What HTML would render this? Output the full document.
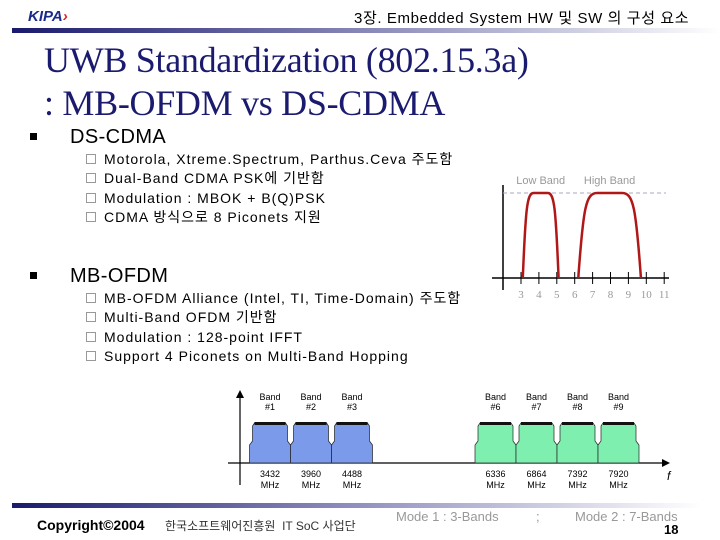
<!DOCTYPE html>
<html><head><meta charset="utf-8">
<style>
body{margin:0;width:720px;height:540px;background:#fff;overflow:hidden;position:relative;font-family:"Liberation Sans","Noto Sans CJK KR",sans-serif}
.abs{position:absolute}
.t1{font-family:"Liberation Serif","Noto Serif CJK SC",serif;color:#1a1a6e;font-size:36px;line-height:43px;left:44px;top:39px;letter-spacing:-0.3px}
.sq{width:7px;height:7px;background:#000;display:inline-block;vertical-align:3px}
.l1{font-size:20px;color:#000;letter-spacing:0.4px}
.l2{font-size:14px;color:#000;line-height:19.3px;letter-spacing:1px}
.cb{display:inline-block;width:8px;height:8px;border:1px solid #999;margin-right:8px;vertical-align:0px}
</style></head><body>
<div class="abs" style="left:12px;top:28px;width:708px;height:5px;background:linear-gradient(90deg,#1a1a6e,#8888b8 50%,#fff)"></div>
<div class="abs" style="left:28px;top:8px;font:italic bold 15px 'Liberation Sans';color:#1a2a8a">KIPA<span style="color:#d22">›</span></div>
<div class="abs" style="left:354px;top:7px;font-size:15px;letter-spacing:0.6px">3장. Embedded System HW 및 SW 의 구성 요소</div>
<div class="abs t1">UWB Standardization (802.15.3a)<br>: MB-OFDM vs DS-CDMA</div>
<div class="abs" style="left:30px;top:126px">
<div class="l1"><span class="sq" style="margin-right:33px"></span>DS-CDMA</div>
<div class="l2" style="margin:1px 0 0 56px">
<div><span class="cb"></span>Motorola, Xtreme.Spectrum, Parthus.Ceva 주도함</div>
<div><span class="cb"></span>Dual-Band CDMA PSK에 기반함</div>
<div><span class="cb"></span>Modulation : MBOK + B(Q)PSK</div>
<div><span class="cb"></span>CDMA 방식으로 8 Piconets 지원</div></div></div>
<div class="abs" style="left:30px;top:265px">
<div class="l1"><span class="sq" style="margin-right:33px"></span>MB-OFDM</div>
<div class="l2" style="margin:1px 0 0 56px">
<div><span class="cb"></span>MB-OFDM Alliance (Intel, TI, Time-Domain) 주도함</div>
<div><span class="cb"></span>Multi-Band OFDM 기반함</div>
<div><span class="cb"></span>Modulation : 128-point IFFT</div>
<div><span class="cb"></span>Support 4 Piconets on Multi-Band Hopping</div></div></div>

<svg id="c1" class="abs" style="left:0;top:0" width="720" height="540"></svg>

<div class="abs" style="left:12px;top:503px;width:690px;height:5px;background:linear-gradient(90deg,#1a1a6e,#9090c0 50%,#fff)"></div>
<div class="abs" style="left:37px;top:517px;font:bold 14px 'Liberation Sans'">Copyright©2004</div>
<div class="abs" style="left:165px;top:517px;font-size:12px;color:#333">한국소프트웨어진흥원 &nbsp;IT SoC 사업단</div>
<div class="abs" style="left:396px;top:509px;font-size:13px;color:#999">Mode 1 : 3-Bands</div>
<div class="abs" style="left:536px;top:509px;font-size:13px;color:#999">;</div>
<div class="abs" style="left:575px;top:509px;font-size:13px;color:#999">Mode 2 : 7-Bands</div>
<div class="abs" style="left:664px;top:522px;font:bold 13px 'Liberation Sans'">18</div>
<script>
const tickVals=[3,4,5,6,7,8,9,10,11];
const bandNames=["Low Band","High Band"];
const bandStart=[3.1,6.2];
const bandEnd=[5.1,9.7];
const ofdmBands=["#1","#2","#3","#6","#7","#8","#9"];
const ofdmFreqs=[3432,3960,4488,6336,6864,7392,7920];
const ofdmColors=["#7b9bea","#7b9bea","#7b9bea","#7fefaf","#7fefaf","#7fefaf","#7fefaf"];
const NS="http://www.w3.org/2000/svg";
const svg=document.getElementById('c1');
function mk(t,a,p){const e=document.createElementNS(NS,t);for(const k in a)e.setAttribute(k,a[k]);(p||svg).appendChild(e);return e;}
const x1=v=>521+(v-3)*17.9, base1=278, top1=193;
let e;
e=mk('line',{x1:503,y1:185,x2:503,y2:290,stroke:'#000','stroke-width':1.5});

e=mk('line',{x1:492,y1:base1,x2:669,y2:base1,stroke:'#000','stroke-width':1.5});

e=mk('line',{x1:503,y1:top1,x2:666,y2:top1,stroke:'#aab','stroke-dasharray':'4 3'});

tickVals.forEach(v=>{
 e=mk('line',{x1:x1(v),y1:base1-6,x2:x1(v),y2:base1+6,stroke:'#000'});
 
 e=mk('text',{x:x1(v),y:base1+20,'text-anchor':'middle','font-size':11,fill:'#999','font-family':'Liberation Serif'});e.textContent=v;
 
});
bandNames.forEach((n,i)=>{
 const a=x1(bandStart[i]),b=x1(bandEnd[i]),w=b-a;
 e=mk('path',{d:`M${a},${base1} C${a+w*0.08},${top1+15} ${a+w*0.12},${top1} ${a+w*0.3},${top1} L${b-w*0.3},${top1} C${b-w*0.12},${top1} ${b-w*0.08},${top1+15} ${b},${base1}`,fill:'none',stroke:'#b01818','stroke-width':2.5});
 
 e=mk('text',{x:(a+b)/2,y:184,'text-anchor':'middle','font-size':11,fill:'#999'});e.textContent=n;
 
});
const x2=f=>270+(f-3432)*41/528, base2=463, top2=423, bw=41;
e=mk('line',{x1:240,y1:485,x2:240,y2:396,stroke:'#000','stroke-width':1.2});

mk('path',{d:'M236,398 L240,390 L244,398 Z',fill:'#000'});
e=mk('line',{x1:228,y1:base2,x2:664,y2:base2,stroke:'#000','stroke-width':1.2});

mk('path',{d:'M662,459 L670,463 L662,467 Z',fill:'#000'});
e=mk('text',{x:667,y:480,'font-size':12,'font-style':'italic'});e.textContent='f';

ofdmFreqs.forEach((f,i)=>{
 const c=x2(f),a=c-bw/2,b=c+bw/2;
 e=mk('path',{d:`M${a},${base2} L${a},${top2+22} L${a+3},${top2+18} L${a+3},${top2+3} L${a+5},${top2} L${b-5},${top2} L${b-3},${top2+3} L${b-3},${top2+18} L${b},${top2+22} L${b},${base2} Z`,fill:ofdmColors[i],stroke:'#222','stroke-width':0.7});
 
 mk('rect',{x:a+5,y:top2-1,width:bw-10,height:3,fill:'#111'});
 e=mk('text',{x:c,y:400,'text-anchor':'middle','font-size':9});e.textContent='Band';
 
 e=mk('text',{x:c,y:410,'text-anchor':'middle','font-size':9});e.textContent=ofdmBands[i];
 
 e=mk('text',{x:c,y:477,'text-anchor':'middle','font-size':9});e.textContent=f;
 
 e=mk('text',{x:c,y:488,'text-anchor':'middle','font-size':9});e.textContent='MHz';
 
});
</script>
</body></html>
